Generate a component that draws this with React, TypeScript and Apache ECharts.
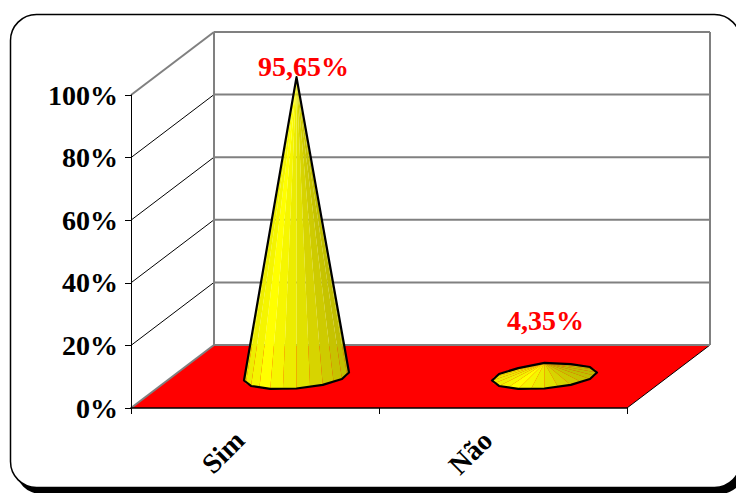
import React, { useEffect, useRef } from "react";
import * as echarts from "echarts";

const categories = ["Sim", "Não"];
const shares = [95.65, 4.35];
const yTicks = [0, 20, 40, 60, 80, 100];

const FONT = '"Liberation Serif", "Times New Roman", serif';
const FONT_SIZE = 28;
const DEPTH_X = 83;
const DEPTH_Y = -63;
const BASE_RX = 52.5;
const BASE_RY = 12;
const BASE_SKEW = 4;
const FACETS = 24;
// Label placement relative to each cone's tip: [dx, dy]
const LABEL_SHIFT = [
  [7, -11],
  [1, -42],
];

function facetColor(u: number) {
  const b = u > -0.6 ? 1 - (u + 0.6) * 0.16 : 1 - (-0.6 - u) * 0.2;
  const r = Math.round(255 * b);
  const g = Math.round(255 * b * (u > 0.3 ? 0.985 : 1));
  return `rgb(${r},${g},0)`;
}

function hull(points: number[][]) {
  const pts = [...points].sort((a, b) => a[0] - b[0] || a[1] - b[1]);
  const cross = (o: number[], a: number[], b: number[]) =>
    (a[0] - o[0]) * (b[1] - o[1]) - (a[1] - o[1]) * (b[0] - o[0]);
  const half = (list: number[][]) => {
    const out: number[][] = [];
    for (const p of list) {
      while (out.length >= 2 && cross(out[out.length - 2], out[out.length - 1], p) <= 0) out.pop();
      out.push(p);
    }
    out.pop();
    return out;
  };
  return [...half(pts), ...half([...pts].reverse())];
}

// Side wall, back wall and floor of the 3D box
function renderWall(params: any, api: any) {
  const v = api.value(1);
  const sys = params.coordSys;
  const y = api.coord([0, v])[1];
  const x0 = sys.x;
  const x1 = sys.x + sys.width;
  const edge = v === 0 || v === 100;
  const gray = { stroke: "#808080", lineWidth: 2 };
  const children: any[] = [];
  if (v === 0) {
    children.push({
      type: "polygon",
      shape: {
        points: [
          [x0, y],
          [x1, y],
          [x1 + DEPTH_X, y + DEPTH_Y],
          [x0 + DEPTH_X, y + DEPTH_Y],
        ],
      },
      style: { fill: "#ff0000" },
    });
    children.push({
      type: "line",
      shape: { x1, y1: y, x2: x1 + DEPTH_X, y2: y + DEPTH_Y },
      style: { stroke: "#000", lineWidth: 1 },
    });
  }
  if (v === 100) {
    const yBottom = api.coord([0, 0])[1] + DEPTH_Y;
    [x0, x1].forEach((x) =>
      children.push({
        type: "line",
        shape: { x1: x + DEPTH_X, y1: y + DEPTH_Y, x2: x + DEPTH_X, y2: yBottom },
        style: gray,
      })
    );
  }
  children.push({
    type: "line",
    shape: { x1: x0 + DEPTH_X, y1: y + DEPTH_Y, x2: x1 + DEPTH_X, y2: y + DEPTH_Y },
    style: gray,
  });
  children.push({
    type: "line",
    shape: { x1: x0, y1: y, x2: x0 + DEPTH_X, y2: y + DEPTH_Y },
    style: edge ? gray : { stroke: "#000", lineWidth: 1 },
  });
  return { type: "group", children };
}

// Cone standing on the floor, built from shaded facets and a black silhouette
function renderCone(params: any, api: any) {
  const idx = api.value(0);
  const share = api.value(1);
  const [fx, fy] = api.coord([idx, 0]);
  const tipFront = api.coord([idx, share]);
  const cx = fx + DEPTH_X / 2;
  const cy = fy + DEPTH_Y / 2;
  const tip = [cx, tipFront[1] + DEPTH_Y / 2];
  const rim: number[][] = [];
  for (let i = 0; i < FACETS; i++) {
    const t = (i / FACETS) * Math.PI * 2;
    rim.push([
      cx + BASE_RX * Math.cos(t),
      cy + BASE_RY * Math.sin(t) - BASE_SKEW * Math.cos(t),
    ]);
  }
  const facets = rim
    .map((p, i) => {
      const t = ((i + 0.5) / FACETS) * Math.PI * 2;
      return { p, q: rim[(i + 1) % FACETS], u: Math.cos(t) };
    })
    // Only facets turned towards the viewer are drawn, so the floor shows through their seams
    .filter(({ p, q }) => (p[0] - tip[0]) * (q[1] - tip[1]) - (p[1] - tip[1]) * (q[0] - tip[0]) > 0);
  const children: any[] = facets.map((f) => ({
    type: "polygon",
    shape: { points: [tip, f.p, f.q] },
    style: { fill: facetColor(f.u) },
  }));
  const outline = hull([tip, ...rim.filter((_, i) => i % 2 === 0)]);
  children.push({
    type: "polygon",
    shape: { points: outline },
    style: { fill: "none", stroke: "#000", lineWidth: 2.2, lineJoin: "round" },
  });
  const shift = LABEL_SHIFT[idx];
  children.push({
    type: "text",
    style: {
      text: share.toFixed(2).replace(".", ",") + "%",
      x: tip[0] + shift[0],
      y: tip[1] + shift[1],
      fill: "#ff0000",
      font: `bold ${FONT_SIZE}px ${FONT}`,
      align: "center",
      verticalAlign: "middle",
    },
  });
  return { type: "group", children };
}

export default function App() {
  const ref = useRef<HTMLDivElement>(null);

  useEffect(() => {
    document.body.style.margin = "0";
    document.body.style.background = "#fff";
    const chart = echarts.init(ref.current!, null, { renderer: "svg" });
    chart.setOption({
      animation: false,
      backgroundColor: "#fff",
      graphic: [
        {
          type: "rect",
          z: -2,
          shape: { x: 15.5, y: 20, width: 730, height: 474, r: 26 },
          style: { fill: "#000" },
        },
        {
          type: "rect",
          z: -1,
          shape: { x: 10.5, y: 14.5, width: 730, height: 473, r: 26 },
          style: { fill: "#fff", stroke: "#000", lineWidth: 1.5 },
        },
      ],
      grid: { left: 131, top: 95, width: 496, height: 313, containLabel: false },
      xAxis: {
        type: "category",
        data: categories,
        z: 5,
        axisLine: { show: true, lineStyle: { color: "#000", width: 1.5 } },
        axisTick: { show: true, length: 6, alignWithLabel: false, lineStyle: { color: "#000", width: 1 } },
        axisLabel: {
          rotate: 45,
          interval: 0,
          margin: 12,
          padding: [0, 22, 0, 0],
          color: "#000",
          fontFamily: FONT,
          fontWeight: "bold",
          fontSize: FONT_SIZE,
        },
      },
      yAxis: {
        type: "value",
        min: 0,
        max: 100,
        interval: 20,
        z: 5,
        axisLine: { show: true, lineStyle: { color: "#000", width: 1 } },
        axisTick: { show: true, length: 6, lineStyle: { color: "#000", width: 1 } },
        splitLine: { show: false },
        axisLabel: {
          margin: 13,
          formatter: "{value}%",
          color: "#000",
          fontFamily: FONT,
          fontWeight: "bold",
          fontSize: FONT_SIZE,
        },
      },
      series: [
        {
          type: "custom",
          z: 1,
          clip: false,
          renderItem: renderWall,
          encode: { x: 0, y: 1 },
          data: yTicks.map((v) => [0, v]),
        },
        {
          type: "custom",
          z: 3,
          clip: false,
          renderItem: renderCone,
          encode: { x: 0, y: 1 },
          data: shares.map((v, i) => [i, v]),
        },
      ],
    });
    return () => chart.dispose();
  }, []);

  return <div ref={ref} style={{ width: 736, height: 493 }} />;
}
